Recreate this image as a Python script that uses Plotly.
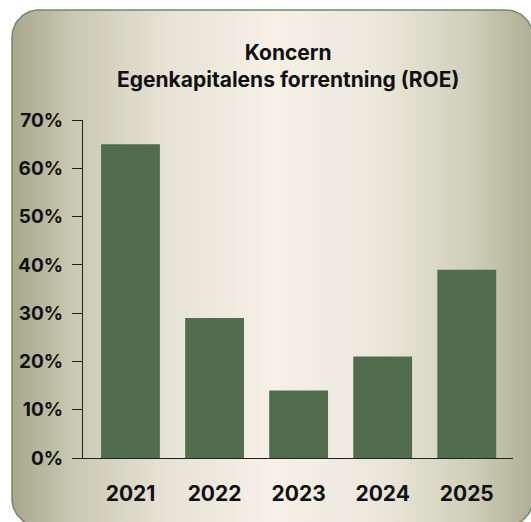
import numpy as np
import plotly.graph_objects as go

# Return on equity per year
years = ["2021", "2022", "2023", "2024", "2025"]
roe_pct = [65, 29, 14, 21, 39]
y_ticks = [0, 10, 20, 30, 40, 50, 60, 70]
y_tick_labels = [f"{v}%" for v in y_ticks]
title_lines = ["Koncern", "Egenkapitalens forrentning (ROE)"]

W, H = 531, 522
FONT = "Inter, Roboto, 'Noto Sans', sans-serif"
BAR_COLOR = "#526d4e"


def rounded_panel(x0, y0, x1, y1, r, n=24):
    """Outline of a rounded rectangle in pixel coordinates."""
    xs, ys = [], []
    corners = [
        (x1 - r, y0 + r, -90, 0),
        (x1 - r, y1 - r, 0, 90),
        (x0 + r, y1 - r, 90, 180),
        (x0 + r, y0 + r, 180, 270),
    ]
    for cx, cy, a0, a1 in corners:
        t = np.radians(np.linspace(a0, a1, n))
        xs.extend(cx + r * np.cos(t))
        ys.extend(cy + r * np.sin(t))
    xs.append(xs[0])
    ys.append(ys[0])
    return xs, ys


px_x, px_y = rounded_panel(12, 10, 533, 526, 27)

fig = go.Figure()

# Background panel with a horizontal olive-to-cream gradient
fig.add_trace(go.Scatter(
    x=px_x, y=px_y, mode="lines", fill="toself",
    line=dict(color="#6f8b69", width=1.5),
    fillgradient=dict(
        type="horizontal",
        colorscale=[
            [0.0, "#a6a88a"],
            [0.12, "#cac9b3"],
            [0.3, "#e7e3d6"],
            [0.5, "#f6f0e6"],
            [0.7, "#ece8dc"],
            [0.88, "#d0cfba"],
            [1.0, "#aeaf93"],
        ],
    ),
    hoverinfo="skip", showlegend=False, xaxis="x", yaxis="y",
))

# ROE bars
fig.add_trace(go.Bar(
    x=years, y=roe_pct, marker=dict(color=BAR_COLOR, line=dict(width=0)),
    xaxis="x2", yaxis="y2", showlegend=False, hoverinfo="skip",
))

plot_l, plot_r, plot_t, plot_b = 83, 513, 120, 458

fig.update_layout(
    template="none",
    width=W, height=H,
    margin=dict(l=0, r=0, t=0, b=0, pad=0),
    paper_bgcolor="white", plot_bgcolor="rgba(0,0,0,0)",
    bargap=0.3,
    font=dict(family=FONT, color="#111111"),
    xaxis=dict(domain=[0, 1], range=[0, W], visible=False,
               fixedrange=True, automargin=False),
    yaxis=dict(domain=[0, 1], range=[H, 0], visible=False,
               fixedrange=True, automargin=False),
    xaxis2=dict(
        domain=[plot_l / W, plot_r / W], anchor="y2", automargin=False,
        type="category", range=[-0.565, 4.55],
        showline=True, linecolor="#222222", linewidth=1.3,
        showgrid=False, ticks="", zeroline=False,
        tickfont=dict(size=21, family=FONT, weight="bold", color="#111111"),
        ticklabelstandoff=17,
    ),
    yaxis2=dict(
        domain=[(H - plot_b) / H, (H - plot_t) / H], anchor="x2",
        automargin=False,
        range=[0, 70], tickvals=y_ticks, ticktext=y_tick_labels,
        showline=True, linecolor="#222222", linewidth=1.3,
        ticks="outside", ticklen=10, tickwidth=1.3, tickcolor="#222222",
        showgrid=False, zeroline=False,
        tickfont=dict(size=19, family=FONT, weight="bold", color="#111111"),
        ticklabelstandoff=5,
    ),
    annotations=[dict(
        text="<br>".join(title_lines),
        xref="paper", yref="paper", x=288 / W, y=1 - 66 / H,
        xanchor="center", yanchor="middle", showarrow=False,
        font=dict(size=21, family=FONT, weight="bold", color="#111111"),
    )],
)

fig.write_html("out.html")
